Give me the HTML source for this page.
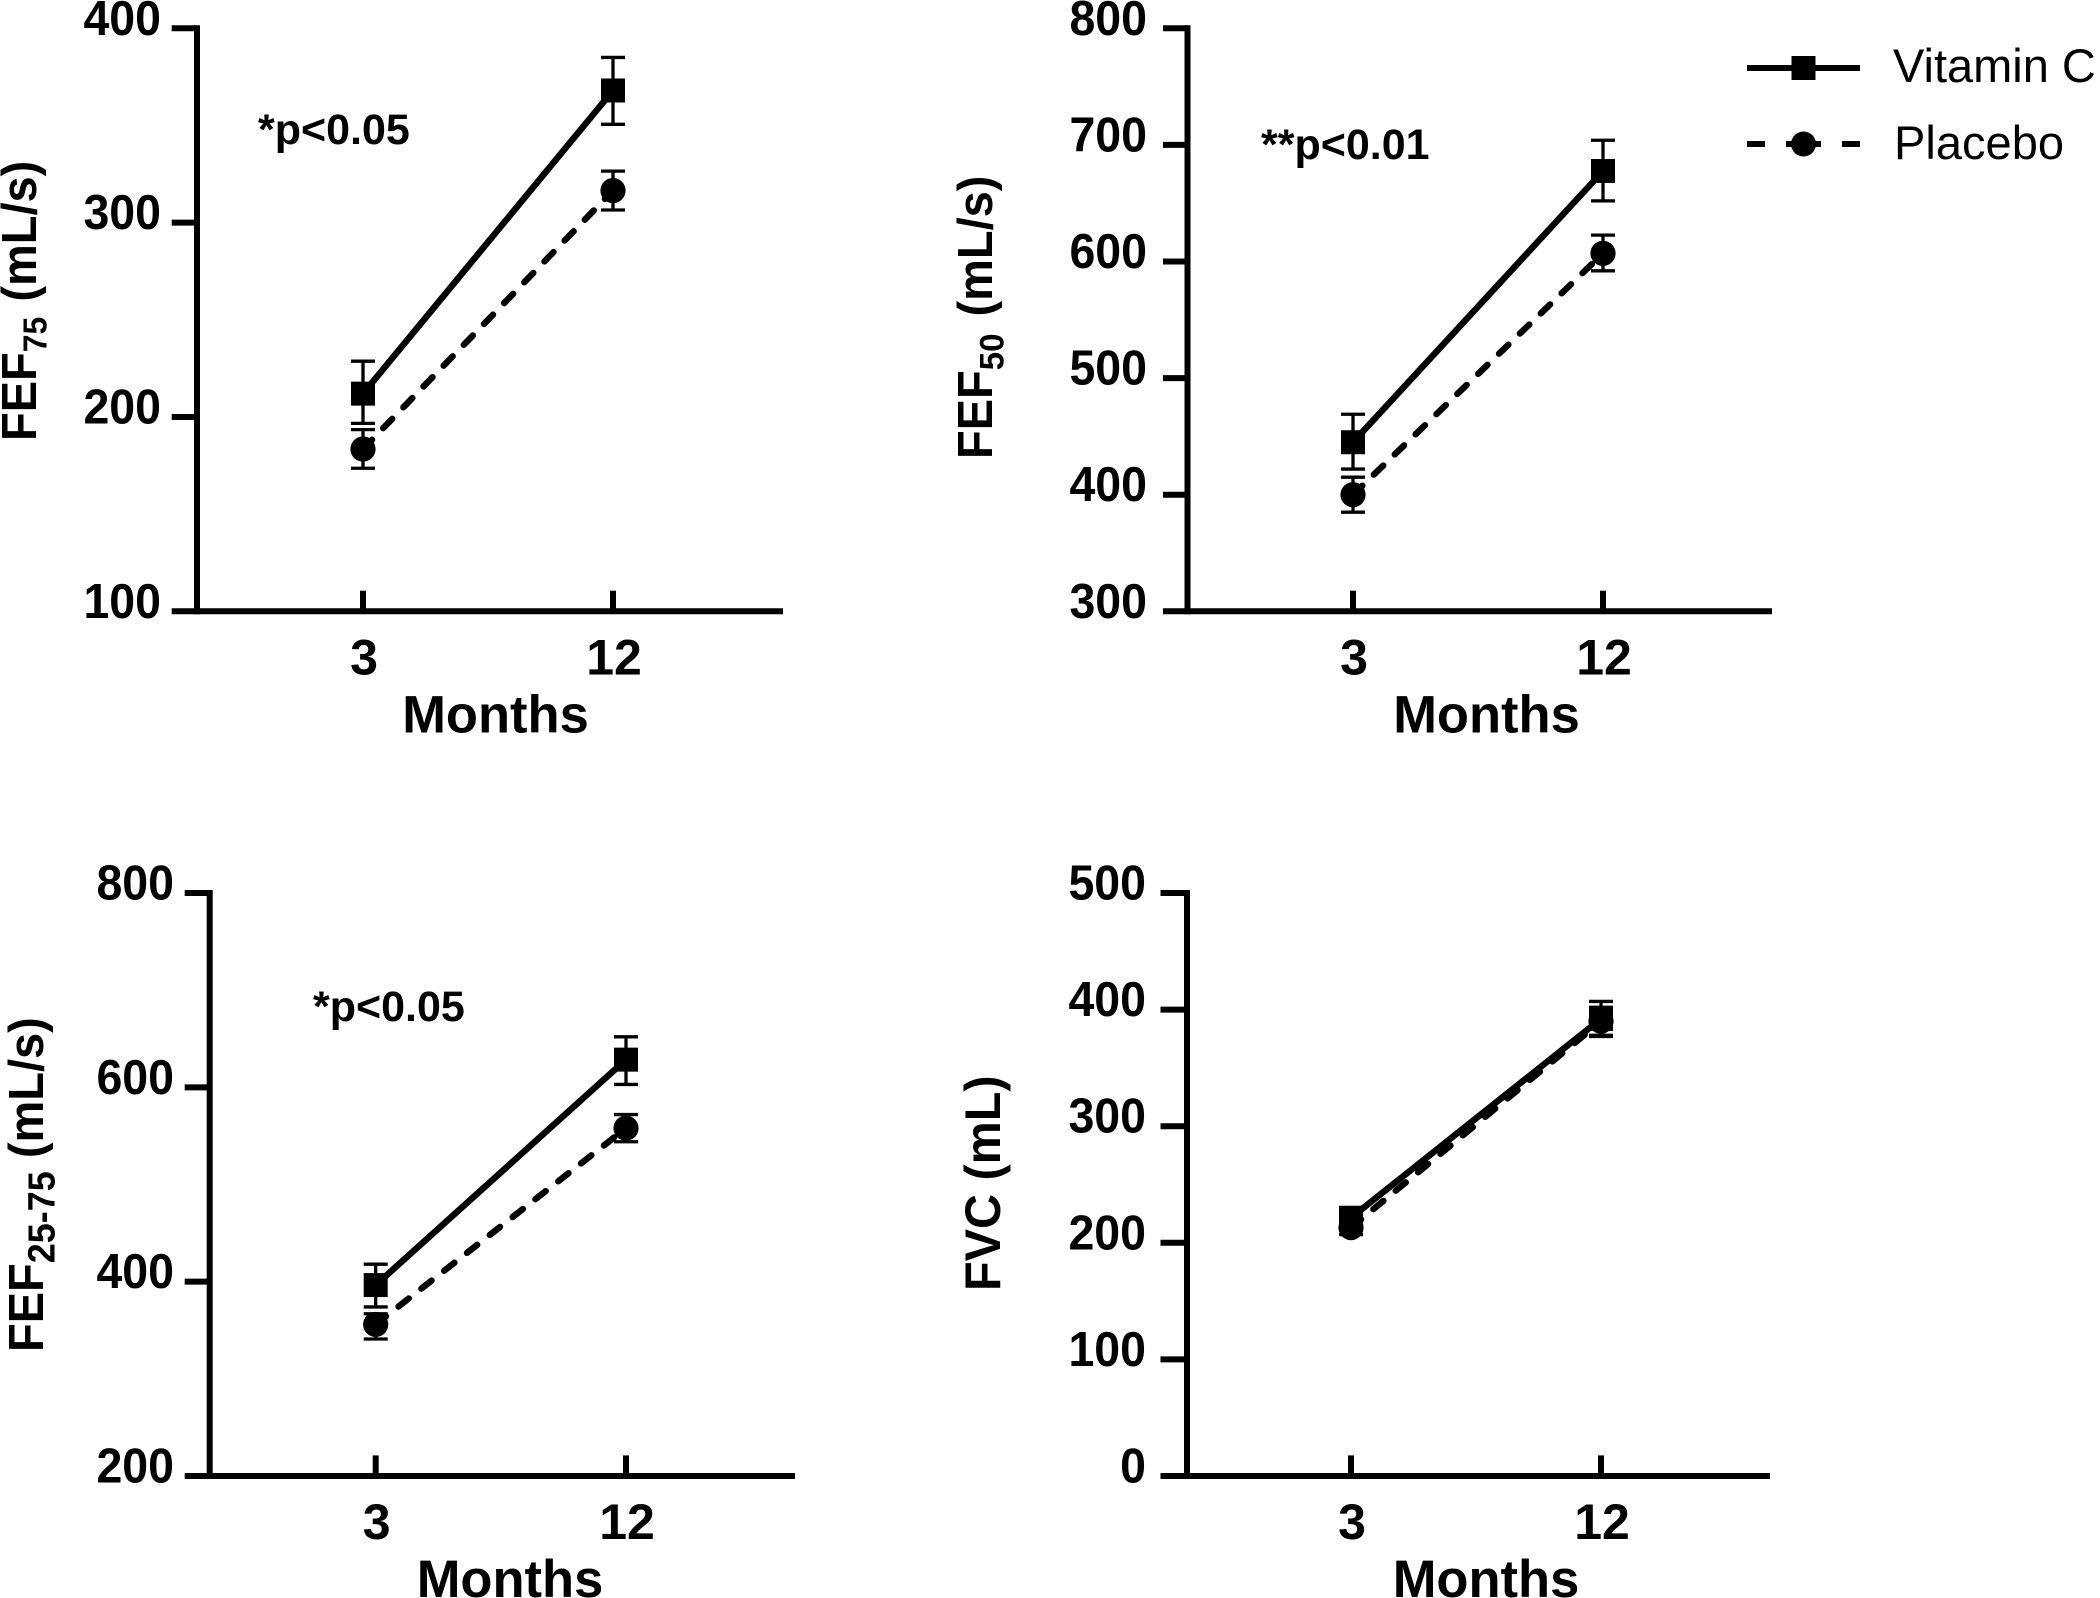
<!DOCTYPE html>
<html lang="en">
<head>
<meta charset="utf-8">
<title>Pulmonary function: Vitamin C vs Placebo</title>
<style>
  html, body { margin: 0; padding: 0; background: #fff; }
  body { width: 2100px; height: 1598px; overflow: hidden; }
  svg { display: block; }
  text { font-family: "Liberation Sans", Arial, sans-serif; fill: #000; }
  .tick { font-size: 46.5px; font-weight: 700; }
  .xt { font-size: 50px; font-weight: 700; }
  .xtitle { font-size: 52.5px; font-weight: 700; }
  .ytitle { font-size: 47px; font-weight: 700; }
  .pval { font-size: 43px; font-weight: 700; }
  .leg { font-size: 47px; }
</style>
</head>
<body>
<svg id="figure" width="2100" height="1598" viewBox="0 0 2100 1598" xmlns="http://www.w3.org/2000/svg">
  <rect width="2100" height="1598" fill="#fff"/>

  <text class="ytitle" transform="translate(36,441) rotate(-90) scale(1,1.05)">FEF<tspan font-size="32" dy="10">75</tspan><tspan dy="-10" dx="2"> (mL/s)</tspan></text>
  <text class="ytitle" transform="translate(992,459) rotate(-90) scale(1,1.05)">FEF<tspan font-size="33" dy="11">50</tspan><tspan dy="-11" dx="4"> (mL/s)</tspan></text>
  <text class="ytitle" transform="translate(43,1352) rotate(-90) scale(1,1.05)">FEF<tspan font-size="36" dy="11">25-75</tspan><tspan dy="-11"> (mL/s)</tspan></text>
  <text class="ytitle" style="font-size:48.5px" transform="translate(1000,1291) rotate(-90) scale(1,1.03)">FVC (mL)</text>

  <text class="pval" x="258" y="144">*p&lt;0.05</text>
  <text class="pval" x="1261" y="159">**p&lt;0.01</text>
  <text class="pval" x="313" y="1021">*p&lt;0.05</text>

  <g>
    <g>
      <line x1="1747" x2="1860" y1="68" y2="68" stroke="#000" stroke-width="6"/>
      <rect x="1791.5" y="56" width="24" height="24" fill="#000"/>
      <text class="leg" x="1893" y="82">Vitamin C</text>
    </g>
    <g>
      <line x1="1747" x2="1860" y1="144" y2="144" stroke="#000" stroke-width="6" stroke-dasharray="18 21 35 21 18"/>
      <circle cx="1803.5" cy="144" r="12.5" fill="#000"/>
      <text class="leg" x="1894" y="159" textLength="170">Placebo</text>
    </g>
  </g>
</svg>

<script>
// Shared categories
var months = ['3', '12'];
var xAxisTitle = 'Months';

// FEF75 panel
var fef75Ticks = [100, 200, 300, 400];
var fef75VitaminC = [212, 368];
var fef75VitaminCUpper = [228.7, 385];
var fef75VitaminCLower = [196.7, 350.6];
var fef75Placebo = [183.5, 316.5];
var fef75PlaceboUpper = [193.5, 326.5];
var fef75PlaceboLower = [173.6, 306.5];

// FEF50 panel
var fef50Ticks = [300, 400, 500, 600, 700, 800];
var fef50VitaminC = [445, 677.6];
var fef50VitaminCUpper = [469, 704];
var fef50VitaminCLower = [422, 652];
var fef50Placebo = [400, 607];
var fef50PlaceboUpper = [415, 622.6];
var fef50PlaceboLower = [385, 592];

// FEF25-75 panel
var fef2575Ticks = [200, 400, 600, 800];
var fef2575VitaminC = [396.5, 628.5];
var fef2575VitaminCUpper = [418, 652];
var fef2575VitaminCLower = [374, 603];
var fef2575Placebo = [356, 558];
var fef2575PlaceboUpper = [367, 572];
var fef2575PlaceboLower = [341, 544];

// FVC panel
var fvcTicks = [0, 100, 200, 300, 400, 500];
var fvcVitaminC = [221.5, 392];
var fvcVitaminCUpper = [228, 407];
var fvcVitaminCLower = [215, 377];
var fvcPlacebo = [213, 390];
var fvcPlaceboUpper = [219, 402];
var fvcPlaceboLower = [207, 378];

var SVG_NS = 'http://www.w3.org/2000/svg';
var figure = document.getElementById('figure');

function make(tag, attrs, parent) {
  var el = document.createElementNS(SVG_NS, tag);
  for (var k in attrs) { el.setAttribute(k, attrs[k]); }
  parent.appendChild(el);
  return el;
}

function drawSeries(g, name, xs, ys, vals, upper, lower, dashed) {
  var group = make('g', {}, g);
  
  

  vals.forEach(function (v, i) {
    var x = xs(i);
    var bar = make('path', {
      d: 'M' + x + ' ' + ys(upper[i]) + 'V' + ys(lower[i]) +
         'M' + (x - 12) + ' ' + ys(upper[i]) + 'H' + (x + 12) +
         'M' + (x - 12) + ' ' + ys(lower[i]) + 'H' + (x + 12),
      stroke: '#000', 'stroke-width': 3.3, fill: 'none'
    }, group);
    
    
  });

  var line = make('line', {
    x1: xs(0), y1: ys(vals[0]), x2: xs(1), y2: ys(vals[1]),
    stroke: '#000', 'stroke-width': 6.4
  }, group);
  
  
  if (dashed) {
    line.setAttribute('stroke-dasharray', '13 16');
    line.setAttribute('stroke-linecap', 'round');
  }

  vals.forEach(function (v, i) {
    var marker;
    if (dashed) {
      marker = make('circle', { cx: xs(i), cy: ys(v), r: 12.6, fill: '#000' }, group);
    } else {
      marker = make('rect', { x: xs(i) - 12, y: ys(v) - 12, width: 24, height: 24, fill: '#000' }, group);
    }
    
    
  });
}

function drawPanel(name, frame, ticks, vitC, vitU, vitL, pla, plaU, plaL) {
  var g = make('g', {}, figure);
  
  

  var lo = ticks[0], hi = ticks[ticks.length - 1];
  var ys = function (v) { return frame.bottom - (v - lo) / (hi - lo) * (frame.bottom - frame.top); };
  var xs = function (i) { return frame.x3 + i * (frame.x12 - frame.x3); };

  var yAxis = make('line', { x1: frame.axisX, x2: frame.axisX, y1: frame.top - 3, y2: frame.bottom + 3, stroke: '#000', 'stroke-width': 6 }, g);
  
  

  var xAxis = make('line', { x1: frame.axisX, x2: frame.xEnd, y1: frame.bottom, y2: frame.bottom, stroke: '#000', 'stroke-width': 6 }, g);
  
  

  ticks.forEach(function (t) {
    var tick = make('line', { x1: frame.tickLeft, x2: frame.axisX, y1: ys(t), y2: ys(t), stroke: '#000', 'stroke-width': 6 }, g);
    
    

    var label = make('text', {
      transform: 'translate(' + frame.labelRight + ',' + (ys(t) + 6.5) + ') scale(1,1.05)',
      'text-anchor': 'end', 'class': 'tick'
    }, g);
    label.textContent = String(t);
    
    
  });

  months.forEach(function (m, i) {
    var tick = make('line', { x1: xs(i), x2: xs(i), y1: frame.bottom - 20.6, y2: frame.bottom, stroke: '#000', 'stroke-width': 6 }, g);
    
    

    var label = make('text', { x: xs(i) + 1, y: frame.bottom + 63, 'text-anchor': 'middle', 'class': 'xt' }, g);
    label.textContent = m;
    
    
  });

  var title = make('text', { x: frame.titleX, y: frame.bottom + 121, 'text-anchor': 'middle', 'class': 'xtitle' }, g);
  title.textContent = xAxisTitle;
  
  

  drawSeries(g, name + '-placebo', xs, ys, pla, plaU, plaL, true);
  drawSeries(g, name + '-vitamin-c', xs, ys, vitC, vitU, vitL, false);
}

drawPanel('fef75',
  { axisX: 197, tickLeft: 171.7, labelRight: 161, top: 28.3, bottom: 611.3, xEnd: 783, x3: 363, x12: 613, titleX: 495.5 },
  fef75Ticks, fef75VitaminC, fef75VitaminCUpper, fef75VitaminCLower, fef75Placebo, fef75PlaceboUpper, fef75PlaceboLower);

drawPanel('fef50',
  { axisX: 1187.5, tickLeft: 1163, labelRight: 1147, top: 28.3, bottom: 611.3, xEnd: 1772, x3: 1353, x12: 1603, titleX: 1486.5 },
  fef50Ticks, fef50VitaminC, fef50VitaminCUpper, fef50VitaminCLower, fef50Placebo, fef50PlaceboUpper, fef50PlaceboLower);

drawPanel('fef2575',
  { axisX: 209.7, tickLeft: 184.7, labelRight: 174, top: 893, bottom: 1476, xEnd: 795, x3: 375.7, x12: 626, titleX: 510 },
  fef2575Ticks, fef2575VitaminC, fef2575VitaminCUpper, fef2575VitaminCLower, fef2575Placebo, fef2575PlaceboUpper, fef2575PlaceboLower);

drawPanel('fvc',
  { axisX: 1187, tickLeft: 1160.5, labelRight: 1146, top: 893, bottom: 1476, xEnd: 1770, x3: 1351, x12: 1601, titleX: 1486 },
  fvcTicks, fvcVitaminC, fvcVitaminCUpper, fvcVitaminCLower, fvcPlacebo, fvcPlaceboUpper, fvcPlaceboLower);
</script>
</body>
</html>
